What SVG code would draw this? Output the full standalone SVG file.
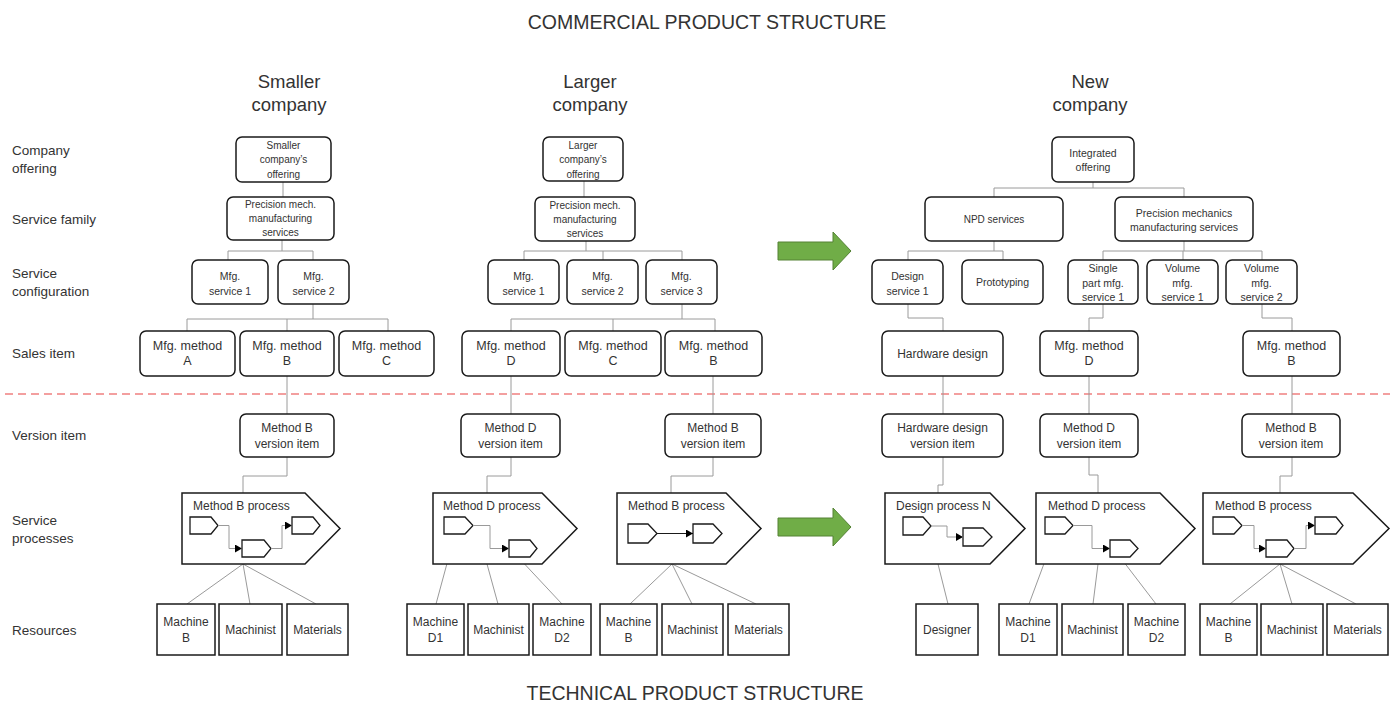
<svg xmlns="http://www.w3.org/2000/svg" width="1397" height="705" viewBox="0 0 1397 705">
<style>
.box{fill:#fff;stroke:#1a1a1a;stroke-width:1.5}
.res{fill:#fff;stroke:#1a1a1a;stroke-width:1.5}
.proc{fill:#fff;stroke:#1a1a1a;stroke-width:1.5}
.sp{fill:#fff;stroke:#1a1a1a;stroke-width:1.3}
.conn{fill:none;stroke:#9a9a9a;stroke-width:1}
.inner{fill:none;stroke:#9a9a9a;stroke-width:1;marker-end:url(#ah)}
.innerb{fill:none;stroke:#1a1a1a;stroke-width:1;marker-end:url(#ah)}
.arrow{fill:#70ad47;stroke:#548235;stroke-width:1}
text{font-family:"Liberation Sans",Arial,sans-serif;fill:#333}
.c{text-anchor:middle}
.f10{font-size:10px}
.f105{font-size:10.5px}
.f12{font-size:12px}
.f125{font-size:12.5px}
.lab{font-size:13.5px}
.hd{font-size:18.5px;text-anchor:middle}
.ttl{font-size:19.5px;text-anchor:middle}
</style>
<defs>
<marker id="ah" markerUnits="userSpaceOnUse" markerWidth="8" markerHeight="8" refX="7" refY="4" orient="auto">
<path d="M0,0 L7,4 L0,8 Z" fill="#000"/>
</marker>
</defs>

<rect width="1397" height="705" fill="#fff"/>

<text class="ttl" x="707" y="29">COMMERCIAL PRODUCT STRUCTURE</text>
<text class="ttl" x="695" y="700">TECHNICAL PRODUCT STRUCTURE</text>

<g id="headers">
<text class="hd" x="289" y="88">Smaller</text><text class="hd" x="289" y="111">company</text>
<text class="hd" x="590" y="88">Larger</text><text class="hd" x="590" y="111">company</text>
<text class="hd" x="1090" y="88">New</text><text class="hd" x="1090" y="111">company</text>
</g>

<g id="row-labels">
<text class="lab" x="12" y="155">Company</text><text class="lab" x="12" y="173">offering</text>
<text class="lab" x="12" y="223.5">Service family</text>
<text class="lab" x="12" y="277.5">Service</text><text class="lab" x="12" y="295.5">configuration</text>
<text class="lab" x="12" y="357.5">Sales item</text>
<text class="lab" x="12" y="439.5">Version item</text>
<text class="lab" x="12" y="524.5">Service</text><text class="lab" x="12" y="542.5">processes</text>
<text class="lab" x="12" y="634.5">Resources</text>
</g>

<line x1="5" y1="394" x2="1390" y2="394" stroke="#f08080" stroke-width="1.5" stroke-dasharray="8,5"/>

<g id="transition-arrows">
<polygon class="arrow" points="778,242 833,242 833,232 851,251 833,270 833,260 778,260"/>
<polygon class="arrow" points="778,518 833,518 833,508 851,527 833,546 833,536 778,536"/>
</g>

<g id="connectors">
<!-- smaller company commercial -->
<path class="conn" d="M283,182 V197"/>
<path class="conn" d="M282,240 V251 M228,251 H313 M228,251 V260 M313,251 V260"/>
<path class="conn" d="M313,304 V319 M187,319 H388 M187,319 V331 M287,319 V331 M388,319 V331"/>
<!-- larger company commercial -->
<path class="conn" d="M584,181 V197"/>
<path class="conn" d="M586,241 V251 M524,251 H682 M524,251 V260 M603,251 V260 M682,251 V260"/>
<path class="conn" d="M682,304 V319 M511,319 H715 M511,319 V331 M613,319 V331 M715,319 V331"/>
<!-- new company commercial -->
<path class="conn" d="M1093,182 V188 M994,188 H1184 M994,188 V197 M1184,188 V197"/>
<path class="conn" d="M994,241 V251 M908,251 H1003 M908,251 V260 M1003,251 V260"/>
<path class="conn" d="M1184,241 V251 M1103,251 H1262 M1103,251 V260 M1183,251 V260 M1262,251 V260"/>
<path class="conn" d="M908,304 V318 H943 V331"/>
<path class="conn" d="M1103,304 V318 H1089 V331"/>
<path class="conn" d="M1262,304 V318 H1292 V331"/>
<!-- sales to version -->
<path class="conn" d="M287,376 V414 M511,376 V414 M713,376 V414 M943,376 V414 M1089,376 V414 M1292,376 V414"/>
<!-- version to process -->
<path class="conn" d="M287,457 V476 H243 V493"/>
<path class="conn" d="M511,457 V476 H487 V493"/>
<path class="conn" d="M713,457 V476 H671 V493"/>
<path class="conn" d="M943,457 V485 H938 V493"/>
<path class="conn" d="M1089,457 V475 H1098 V493"/>
<path class="conn" d="M1292,457 V476 H1280 V493"/>
<!-- process to resources -->
<path class="conn" d="M243,564 L187,604 M243,564 L250,604 M243,564 L316,604"/>
<path class="conn" d="M455,534 L436,604 M487,564 L498,604 M518,557 L562,604"/>
<path class="conn" d="M672,564 L630,604 M672,564 L692,604 M672,564 L756,604"/>
<path class="conn" d="M938,564 L948,604"/>
<path class="conn" d="M1055,534 L1029,604 M1098,564 L1093,604 M1120,557 L1156,604"/>
<path class="conn" d="M1280,564 L1230,604 M1280,564 L1292,604 M1280,564 L1356,604"/>
</g>

<!-- Smaller company commercial nodes -->
<g id="s-offering"><rect class="box" x="236" y="137" width="95" height="45" rx="6"/>
<text class="c f10" x="283.5" y="148.5">Smaller</text><text class="c f10" x="283.5" y="163">company’s</text><text class="c f10" x="283.5" y="177.5">offering</text></g>
<g id="s-family"><rect class="box" x="227" y="197" width="107" height="43" rx="6"/>
<text class="c f10" x="280.5" y="208">Precision mech.</text><text class="c f10" x="280.5" y="222">manufacturing</text><text class="c f10" x="280.5" y="236">services</text></g>
<g id="s-cfg1"><rect class="box" x="192" y="260" width="76" height="44" rx="6"/>
<text class="c f105" x="230" y="280">Mfg.</text><text class="c f105" x="230" y="294.5">service 1</text></g>
<g id="s-cfg2"><rect class="box" x="278" y="260" width="71" height="44" rx="6"/>
<text class="c f105" x="313.5" y="280">Mfg.</text><text class="c f105" x="313.5" y="294.5">service 2</text></g>
<g id="s-mA"><rect class="box" x="140" y="331" width="95" height="45" rx="6"/>
<text class="c f125" x="187.5" y="350">Mfg. method</text><text class="c f125" x="187.5" y="365">A</text></g>
<g id="s-mB"><rect class="box" x="240" y="331" width="94" height="45" rx="6"/>
<text class="c f125" x="287" y="350">Mfg. method</text><text class="c f125" x="287" y="365">B</text></g>
<g id="s-mC"><rect class="box" x="339" y="331" width="95" height="45" rx="6"/>
<text class="c f125" x="386.5" y="350">Mfg. method</text><text class="c f125" x="386.5" y="365">C</text></g>

<!-- Larger company commercial nodes -->
<g id="l-offering"><rect class="box" x="543" y="137" width="80" height="44" rx="6"/>
<text class="c f10" x="583" y="148.5">Larger</text><text class="c f10" x="583" y="163">company’s</text><text class="c f10" x="583" y="177.5">offering</text></g>
<g id="l-family"><rect class="box" x="535" y="197" width="100" height="44" rx="6"/>
<text class="c f10" x="585" y="208.5">Precision mech.</text><text class="c f10" x="585" y="222.5">manufacturing</text><text class="c f10" x="585" y="236.5">services</text></g>
<g id="l-cfg1"><rect class="box" x="488" y="260" width="71" height="44" rx="6"/>
<text class="c f105" x="523.5" y="280">Mfg.</text><text class="c f105" x="523.5" y="294.5">service 1</text></g>
<g id="l-cfg2"><rect class="box" x="567" y="260" width="71" height="44" rx="6"/>
<text class="c f105" x="602.5" y="280">Mfg.</text><text class="c f105" x="602.5" y="294.5">service 2</text></g>
<g id="l-cfg3"><rect class="box" x="646" y="260" width="71" height="44" rx="6"/>
<text class="c f105" x="681.5" y="280">Mfg.</text><text class="c f105" x="681.5" y="294.5">service 3</text></g>
<g id="l-mD"><rect class="box" x="462" y="331" width="98" height="45" rx="6"/>
<text class="c f125" x="511" y="350">Mfg. method</text><text class="c f125" x="511" y="365">D</text></g>
<g id="l-mC"><rect class="box" x="565" y="331" width="96" height="45" rx="6"/>
<text class="c f125" x="613" y="350">Mfg. method</text><text class="c f125" x="613" y="365">C</text></g>
<g id="l-mB"><rect class="box" x="665" y="331" width="97" height="45" rx="6"/>
<text class="c f125" x="713.5" y="350">Mfg. method</text><text class="c f125" x="713.5" y="365">B</text></g>

<!-- New company commercial nodes -->
<g id="n-offering"><rect class="box" x="1052" y="137" width="82" height="45" rx="6"/>
<text class="c f105" x="1093" y="156.5">Integrated</text><text class="c f105" x="1093" y="170.5">offering</text></g>
<g id="n-npd"><rect class="box" x="925" y="197" width="138" height="44" rx="6"/>
<text class="c f10" x="994" y="222.5">NPD services</text></g>
<g id="n-pm"><rect class="box" x="1115" y="197" width="138" height="44" rx="6"/>
<text class="c f105" x="1184" y="216.5">Precision mechanics</text><text class="c f105" x="1184" y="230.5">manufacturing services</text></g>
<g id="n-ds1"><rect class="box" x="872" y="260" width="71" height="44" rx="6"/>
<text class="c f105" x="907.5" y="280">Design</text><text class="c f105" x="907.5" y="294.5">service 1</text></g>
<g id="n-proto"><rect class="box" x="962" y="260" width="81" height="44" rx="6"/>
<text class="c f105" x="1002.5" y="286">Prototyping</text></g>
<g id="n-sp1"><rect class="box" x="1068" y="260" width="70" height="44" rx="6"/>
<text class="c f105" x="1103" y="272">Single</text><text class="c f105" x="1103" y="286.5">part mfg.</text><text class="c f105" x="1103" y="301">service 1</text></g>
<g id="n-vm1"><rect class="box" x="1147" y="260" width="71" height="44" rx="6"/>
<text class="c f105" x="1182.5" y="272">Volume</text><text class="c f105" x="1182.5" y="286.5">mfg.</text><text class="c f105" x="1182.5" y="301">service 1</text></g>
<g id="n-vm2"><rect class="box" x="1226" y="260" width="71" height="44" rx="6"/>
<text class="c f105" x="1261.5" y="272">Volume</text><text class="c f105" x="1261.5" y="286.5">mfg.</text><text class="c f105" x="1261.5" y="301">service 2</text></g>
<g id="n-hw"><rect class="box" x="882" y="331" width="121" height="45" rx="6"/>
<text class="c f12" x="942.5" y="358">Hardware design</text></g>
<g id="n-mD"><rect class="box" x="1040" y="331" width="98" height="45" rx="6"/>
<text class="c f125" x="1089" y="350">Mfg. method</text><text class="c f125" x="1089" y="365">D</text></g>
<g id="n-mB"><rect class="box" x="1243" y="331" width="97" height="45" rx="6"/>
<text class="c f125" x="1291.5" y="350">Mfg. method</text><text class="c f125" x="1291.5" y="365">B</text></g>

<!-- Version items -->
<g id="v-s-B"><rect class="box" x="240" y="414" width="94" height="43" rx="6"/>
<text class="c f12" x="287" y="432">Method B</text><text class="c f12" x="287" y="447.5">version item</text></g>
<g id="v-l-D"><rect class="box" x="461" y="414" width="99" height="43" rx="6"/>
<text class="c f12" x="510.5" y="432">Method D</text><text class="c f12" x="510.5" y="447.5">version item</text></g>
<g id="v-l-B"><rect class="box" x="665" y="414" width="96" height="43" rx="6"/>
<text class="c f12" x="713" y="432">Method B</text><text class="c f12" x="713" y="447.5">version item</text></g>
<g id="v-n-hw"><rect class="box" x="882" y="414" width="121" height="43" rx="6"/>
<text class="c f12" x="942.5" y="432">Hardware design</text><text class="c f12" x="942.5" y="447.5">version item</text></g>
<g id="v-n-D"><rect class="box" x="1040" y="414" width="98" height="43" rx="6"/>
<text class="c f12" x="1089" y="432">Method D</text><text class="c f12" x="1089" y="447.5">version item</text></g>
<g id="v-n-B"><rect class="box" x="1242" y="414" width="98" height="43" rx="6"/>
<text class="c f12" x="1291" y="432">Method B</text><text class="c f12" x="1291" y="447.5">version item</text></g>

<!-- Processes -->
<g id="p-s-B">
<polygon class="proc" points="182,493 305,493 340,528.5 305,564 182,564"/>
<text class="f12" x="193" y="510">Method B process</text>
<polygon class="sp" points="190,517 211,517 218,525.5 211,534 190,534"/>
<polygon class="sp" points="242,540 264,540 271,548.5 264,557 242,557"/>
<polygon class="sp" points="292,517 313,517 320,525.5 313,534 292,534"/>
<path class="inner" d="M218,525.5 H229 V548.5 H242"/>
<path class="inner" d="M271,548.5 H282 V525.5 H292"/>
</g>
<g id="p-l-D">
<polygon class="proc" points="433,493 542,493 577,528.5 542,564 433,564"/>
<text class="f12" x="443" y="510">Method D process</text>
<polygon class="sp" points="444,517 465,517 473,525.5 465,534 444,534"/>
<polygon class="sp" points="509,540 530,540 537,548.5 530,557 509,557"/>
<path class="inner" d="M473,525.5 H490 V548.5 H509"/>
</g>
<g id="p-l-B">
<polygon class="proc" points="617,493 726,493 761,528.5 726,564 617,564"/>
<text class="f12" x="628" y="510">Method B process</text>
<polygon class="sp" points="628,524 648,524 657,533.5 648,543 628,543"/>
<polygon class="sp" points="693,524 713,524 722,533.5 713,543 693,543"/>
<path class="innerb" d="M657,533.5 H693"/>
</g>
<g id="p-n-design">
<polygon class="proc" points="885,493 990,493 1025,528.5 990,564 885,564"/>
<text class="f12" x="896" y="510">Design process N</text>
<polygon class="sp" points="903,517 923,517 931,526 923,535 903,535"/>
<polygon class="sp" points="963,528 983,528 992,537 983,546 963,546"/>
<path class="inner" d="M931,526 H947 V537 H963"/>
</g>
<g id="p-n-D">
<polygon class="proc" points="1036,493 1160,493 1195,528.5 1160,564 1036,564"/>
<text class="f12" x="1048" y="510">Method D process</text>
<polygon class="sp" points="1045,517 1065,517 1073,525.5 1065,534 1045,534"/>
<polygon class="sp" points="1110,540 1130,540 1138,548.5 1130,557 1110,557"/>
<path class="inner" d="M1073,525.5 H1092 V548.5 H1110"/>
</g>
<g id="p-n-B">
<polygon class="proc" points="1203,493 1353,493 1389,528.5 1353,564 1203,564"/>
<text class="f12" x="1215" y="510">Method B process</text>
<polygon class="sp" points="1213,517 1234,517 1242,525.5 1234,534 1213,534"/>
<polygon class="sp" points="1266,540 1287,540 1294,548.5 1287,557 1266,557"/>
<polygon class="sp" points="1315,517 1336,517 1343,525.5 1336,534 1315,534"/>
<path class="inner" d="M1242,525.5 H1254 V548.5 H1266"/>
<path class="inner" d="M1294,548.5 H1306 V525.5 H1315"/>
</g>

<!-- Resources -->
<g id="r-s-machB"><rect class="res" x="157" y="604" width="58" height="51"/><text class="c f12" x="186" y="626">Machine</text><text class="c f12" x="186" y="641.5">B</text></g>
<g id="r-s-machinist"><rect class="res" x="219" y="604" width="63" height="51"/><text class="c f12" x="250.5" y="634">Machinist</text></g>
<g id="r-s-materials"><rect class="res" x="287" y="604" width="61" height="51"/><text class="c f12" x="317.5" y="634">Materials</text></g>

<g id="r-l-machD1"><rect class="res" x="407" y="604" width="57" height="51"/><text class="c f12" x="435.5" y="626">Machine</text><text class="c f12" x="435.5" y="641.5">D1</text></g>
<g id="r-l-machinist"><rect class="res" x="468" y="604" width="61" height="51"/><text class="c f12" x="498.5" y="634">Machinist</text></g>
<g id="r-l-machD2"><rect class="res" x="533" y="604" width="58" height="51"/><text class="c f12" x="562" y="626">Machine</text><text class="c f12" x="562" y="641.5">D2</text></g>

<g id="r-l-machB"><rect class="res" x="600" y="604" width="57" height="51"/><text class="c f12" x="628.5" y="626">Machine</text><text class="c f12" x="628.5" y="641.5">B</text></g>
<g id="r-l-machinist2"><rect class="res" x="662" y="604" width="61" height="51"/><text class="c f12" x="692.5" y="634">Machinist</text></g>
<g id="r-l-materials"><rect class="res" x="728" y="604" width="61" height="51"/><text class="c f12" x="758.5" y="634">Materials</text></g>

<g id="r-n-designer"><rect class="res" x="916" y="604" width="62" height="51"/><text class="c f12" x="947" y="634">Designer</text></g>

<g id="r-n-machD1"><rect class="res" x="999" y="604" width="58" height="51"/><text class="c f12" x="1028" y="626">Machine</text><text class="c f12" x="1028" y="641.5">D1</text></g>
<g id="r-n-machinist"><rect class="res" x="1062" y="604" width="61" height="51"/><text class="c f12" x="1092.5" y="634">Machinist</text></g>
<g id="r-n-machD2"><rect class="res" x="1128" y="604" width="57" height="51"/><text class="c f12" x="1156.5" y="626">Machine</text><text class="c f12" x="1156.5" y="641.5">D2</text></g>

<g id="r-n-machB"><rect class="res" x="1200" y="604" width="57" height="51"/><text class="c f12" x="1228.5" y="626">Machine</text><text class="c f12" x="1228.5" y="641.5">B</text></g>
<g id="r-n-machinist2"><rect class="res" x="1261" y="604" width="62" height="51"/><text class="c f12" x="1292" y="634">Machinist</text></g>
<g id="r-n-materials"><rect class="res" x="1327" y="604" width="61" height="51"/><text class="c f12" x="1357.5" y="634">Materials</text></g>
</svg>
